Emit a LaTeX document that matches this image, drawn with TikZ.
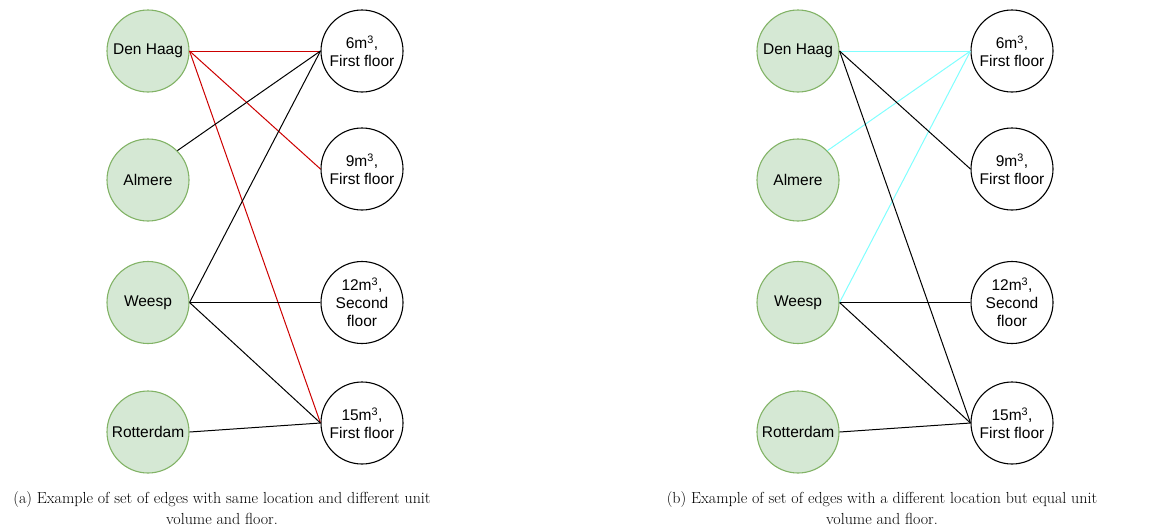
\documentclass[tikz,border=0pt]{standalone}
\usepackage{fontspec}
\newfontfamily\nodefont{Liberation Sans}
\usetikzlibrary{positioning}
\definecolor{locfill}{HTML}{D5E8D4}
\definecolor{locdraw}{HTML}{82B366}
\definecolor{edgered}{HTML}{CC0000}
\definecolor{edgecyan}{HTML}{80FFFF}
\tikzstyle{location} = [
    circle,
    draw=locdraw,
    fill=locfill,
    line width=1.1pt,
    minimum size=82pt,
    inner sep=0pt,
    font=\nodefont\fontsize{15.5}{18}\selectfont,
    align=center
]
\tikzstyle{unit} = [
    circle,
    draw=black,
    fill=white,
    line width=1.1pt,
    minimum size=82pt,
    inner sep=0pt,
    font=\nodefont\fontsize{15.5}{18}\selectfont,
    align=center
]
\tikzstyle{edge} = [
    draw,
    line width=1pt
]
\tikzstyle{caption} = [
    align=center,
    inner sep=0pt,
    font=\fontsize{16}{21}\selectfont
]
\newcommand{\cube}[1]{#1m\textsuperscript{3},}

\begin{document}
\begin{tikzpicture}[x=1pt, y=-1pt]
\useasboundingbox (0,0) rectangle (1166,531);

% (a) same location
\node[location] (dha) at (148,51)  {Den Haag};
\node[location] (ala) at (148,180) {Almere};
\node[location] (wea) at (148,302.5) {Weesp};
\node[location] (roa) at (148,432) {Rotterdam};

\node[unit] (v6a)  at (362,51)  {\cube{6}\\First floor};
\node[unit] (v9a)  at (362,169) {\cube{9}\\First floor};
\node[unit] (v12a) at (362,302.5) {\cube{12}\\Second\\floor};
\node[unit] (v15a) at (362,423) {\cube{15}\\First floor};

\draw[edge, edgered] (dha.east) to (v6a.west);
\draw[edge, edgered] (dha.east) to (v9a.west);
\draw[edge, edgered] (dha.east) to (v15a.west);
\draw[edge] (ala.north east) to (v6a.west);
\draw[edge] (wea.east) to (v6a.west);
\draw[edge] (wea.east) to (v12a.west);
\draw[edge] (wea.east) to (v15a.west);
\draw[edge] (roa.east) to (v15a.west);

\node[caption] (capa) at (222,508)
{(a) Example of set of edges with same location and different unit\\volume and floor.};

% (b) same unit
\node[location] (dhb) at (798,51)  {Den Haag};
\node[location] (alb) at (798,180) {Almere};
\node[location] (web) at (798,302.5) {Weesp};
\node[location] (rob) at (798,432) {Rotterdam};

\node[unit] (v6b)  at (1012,51)  {\cube{6}\\First floor};
\node[unit] (v9b)  at (1012,169) {\cube{9}\\First floor};
\node[unit] (v12b) at (1012,302.5) {\cube{12}\\Second\\floor};
\node[unit] (v15b) at (1012,423) {\cube{15}\\First floor};

\draw[edge, edgecyan] (dhb.east) to (v6b.west);
\draw[edge, edgecyan] (alb.north east) to (v6b.west);
\draw[edge, edgecyan] (web.east) to (v6b.west);
\draw[edge] (dhb.east) to (v9b.west);
\draw[edge] (dhb.east) to (v15b.west);
\draw[edge] (web.east) to (v12b.west);
\draw[edge] (web.east) to (v15b.west);
\draw[edge] (rob.east) to (v15b.west);

\node[caption] (capb) at (882,508)
{(b) Example of set of edges with a different location but equal unit\\volume and floor.};

\end{tikzpicture}
\end{document}
